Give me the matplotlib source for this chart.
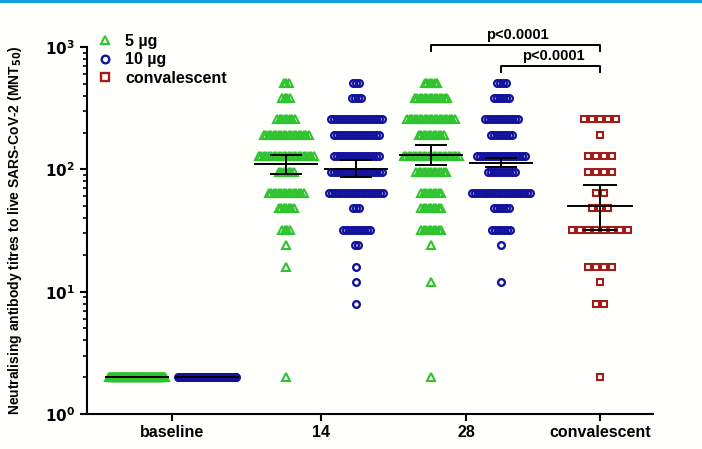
import matplotlib.pyplot as plt
import numpy as np
from matplotlib.lines import Line2D
from matplotlib.patches import Rectangle

plt.rcParams['font.family'] = ['Liberation Sans', 'DejaVu Sans']
plt.rcParams['font.weight'] = 'bold'

# titre levels (MNT50) and number of participants at each level
levels = [512, 384, 256, 192, 128, 96, 64, 48, 32, 24, 16, 12, 8, 2]
base_5 = [0, 0, 0, 0, 0, 0, 0, 0, 0, 0, 0, 0, 0, 96]
base_10 = [0, 0, 0, 0, 0, 0, 0, 0, 0, 0, 0, 0, 0, 96]
d14_5 = [3, 4, 8, 19, 23, 7, 15, 7, 4, 1, 1, 0, 0, 1]
d14_10 = [3, 4, 18, 16, 16, 18, 19, 3, 10, 2, 1, 1, 1, 0]
d28_5 = [6, 14, 20, 11, 23, 13, 9, 9, 9, 1, 0, 1, 0, 1]
d28_10 = [4, 6, 12, 8, 17, 10, 21, 6, 7, 1, 0, 1, 0, 0]
conv = [0, 0, 5, 1, 4, 4, 2, 3, 8, 0, 4, 1, 2, 1]

# geometric mean titres with 95% CI
gmt = {'base_5': (2, 2, 2), 'base_10': (2, 2, 2),
       'd14_5': (110, 92, 131), 'd14_10': (101, 86, 120),
       'd28_5': (130, 108, 157), 'd28_10': (112, 104, 123),
       'conv': (50, 32, 74)}

categories = ['baseline', '14', '28', 'convalescent']
legend_labels = ['5 µg', '10 µg', 'convalescent']
p_labels = ['p<0.0001', 'p<0.0001']

green = '#2fc42f'
blue = '#12129c'
red = '#a31c1c'
bg = '#fffffc'

fig = plt.figure(figsize=(7.02, 4.49), dpi=100, facecolor=bg)
ax = fig.add_axes([87/702, 1 - 414/449, 566/702, 367/449])
ax.set_facecolor(bg)

cat_x = [172, 321, 466, 600]
off = 35

def swarm(counts, cx, step, maxw, marker, color, size, mew):
    for lev, n in zip(levels, counts):
        if n == 0:
            continue
        s = step if n == 1 else min(step, maxw / (n - 1))
        xs = cx + (np.arange(n) - (n - 1) / 2) * s
        ax.plot(xs, [lev] * n, linestyle='none', marker=marker, ms=size,
                mfc='none', mec=color, mew=mew, clip_on=False, zorder=2)

def mean_ci(key, cx, half=31, cap=15):
    m, lo, hi = gmt[key]
    ax.plot([cx - half, cx + half], [m, m], color='black', lw=1.4, zorder=4)
    if hi > lo:
        ax.plot([cx, cx], [lo, hi], color='black', lw=1.4, zorder=4)
        ax.plot([cx - cap, cx + cap], [lo, lo], color='black', lw=1.4, zorder=4)
        ax.plot([cx - cap, cx + cap], [hi, hi], color='black', lw=1.4, zorder=4)

groups = [(base_5, 'base_5', cat_x[0] - off, '^', green),
          (base_10, 'base_10', cat_x[0] + off, 'o', blue),
          (d14_5, 'd14_5', cat_x[1] - off, '^', green),
          (d14_10, 'd14_10', cat_x[1] + off, 'o', blue),
          (d28_5, 'd28_5', cat_x[2] - off, '^', green),
          (d28_10, 'd28_10', cat_x[2] + off, 'o', blue)]
for counts, key, cx, mk, col in groups:
    if mk == '^':
        swarm(counts, cx, 2.5, 56, mk, col, 5.5, 1.5)
    else:
        swarm(counts, cx, 3.0, 58, mk, col, 4.8, 1.7)
    mean_ci(key, cx)

swarm(conv, cat_x[3], 8, 60, 's', red, 4.8, 1.5)
mean_ci('conv', cat_x[3], half=32, cap=16)

ax.set_yscale('log')
ax.set_ylim(1, 1000)
ax.set_xlim(87, 653)
ax.set_xticks(cat_x)
ax.set_xticklabels(categories, fontsize=11.5, fontweight='bold')
ax.set_yticks([1, 10, 100, 1000])
ax.set_yticklabels(['$\\mathbf{10^0}$', '$\\mathbf{10^1}$', '$\\mathbf{10^2}$', '$\\mathbf{10^3}$'],
                   fontsize=11)
ax.spines['top'].set_visible(False)
ax.spines['right'].set_visible(False)
ax.spines['left'].set_linewidth(1.5)
ax.spines['bottom'].set_linewidth(1.5)
ax.tick_params(axis='both', which='major', length=5, width=1.5, direction='out')
ax.tick_params(axis='y', which='minor', length=3, width=1.2)
ax.tick_params(axis='x', pad=3)
ax.set_ylabel('Neutralising antibody titres to live SARS-CoV-2 (MNT$_{\\mathbf{50}}$)',
              fontsize=10, fontweight='bold', labelpad=15)

# significance brackets
def bracket(x0, x1, ytop, ydrop, label, tx):
    ax.plot([x0, x0, x1, x1], [ydrop, ytop, ytop, ydrop], color='black', lw=1.4, clip_on=False)
    ax.text(tx, ytop * 1.05, label, ha='center', va='bottom', fontsize=10.5, fontweight='bold')

bracket(cat_x[2] - off, cat_x[3], 1040, 927, p_labels[0], 517)
bracket(cat_x[2] + off, cat_x[3], 699, 624, p_labels[1], 553)

handles = [Line2D([], [], ls='none', marker='^', ms=6, mfc='none', mec=green, mew=1.5),
           Line2D([], [], ls='none', marker='o', ms=5.5, mfc='none', mec=blue, mew=1.7),
           Line2D([], [], ls='none', marker='s', ms=5.5, mfc='none', mec=red, mew=1.7)]
fig.legend(handles, legend_labels, loc='upper left', bbox_to_anchor=(0.115, 0.957),
           frameon=False, handletextpad=0.7, labelspacing=0.22,
           handlelength=1.2, prop={'weight': 'bold', 'size': 11.5})

fig.add_artist(Rectangle((0, 1 - 3/449), 1, 3/449, transform=fig.transFigure,
                         color='#0f9fe0', lw=0))

fig.savefig('out.png', dpi=100, facecolor=fig.get_facecolor())
